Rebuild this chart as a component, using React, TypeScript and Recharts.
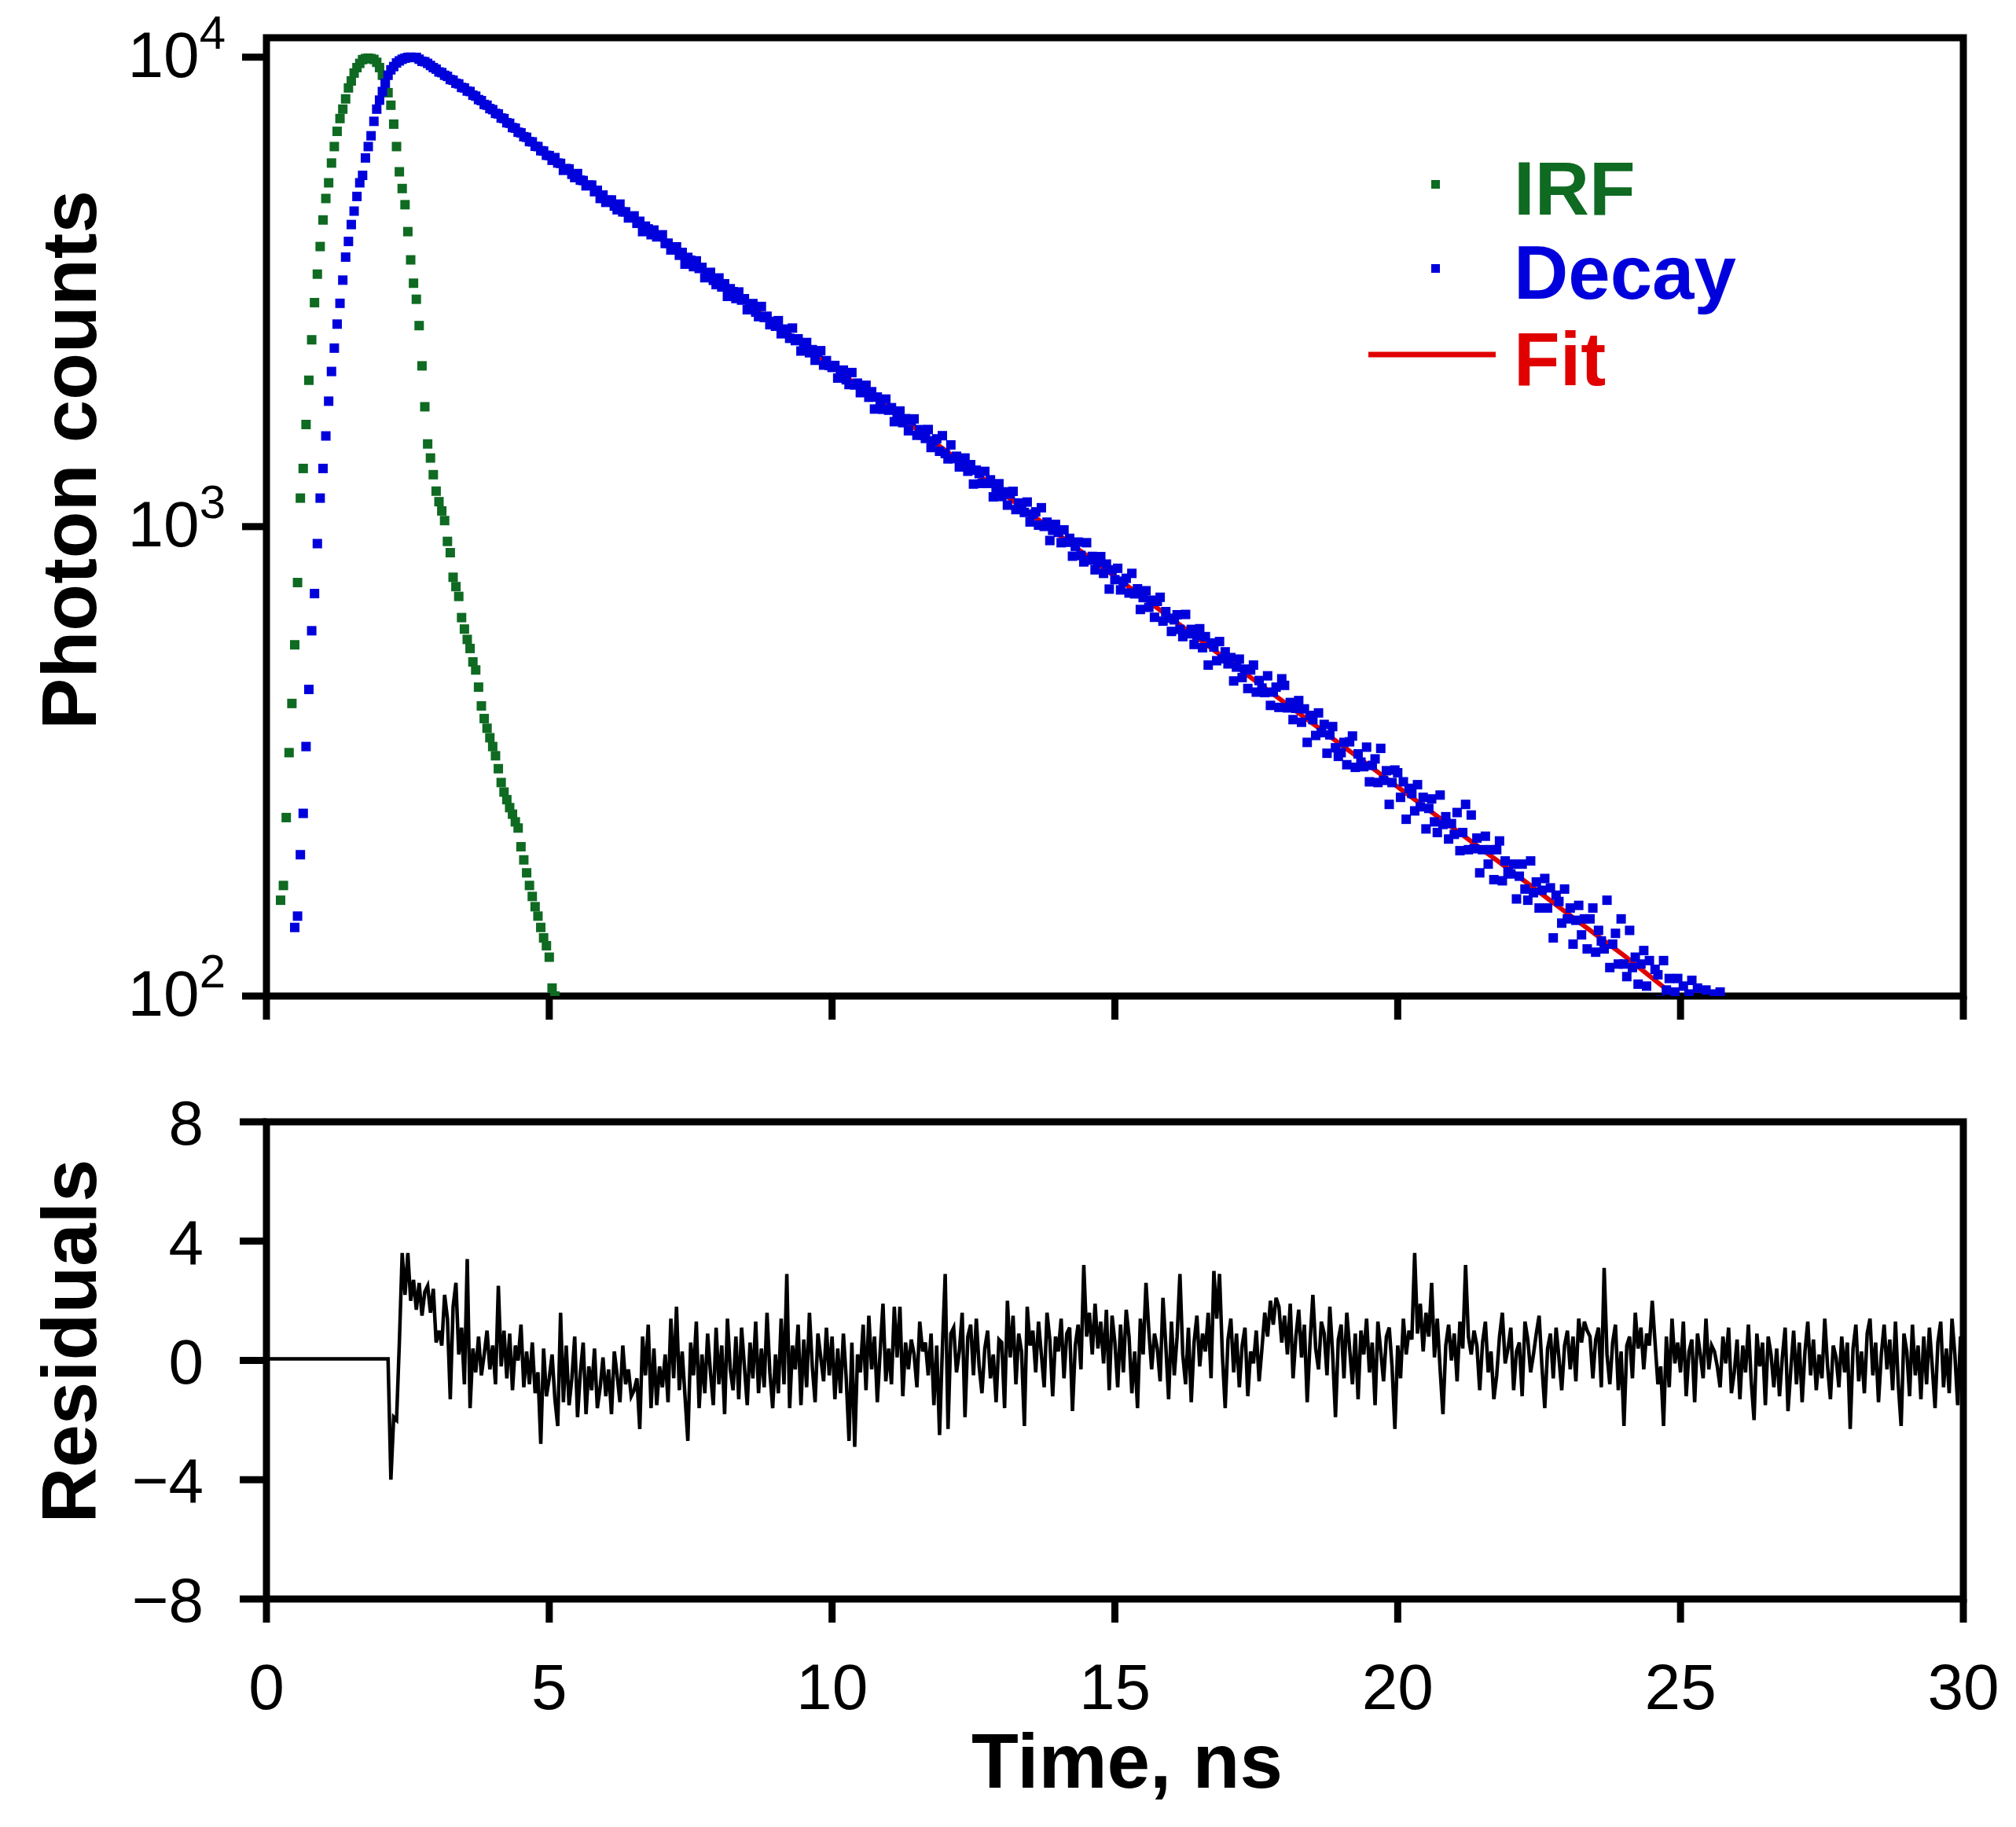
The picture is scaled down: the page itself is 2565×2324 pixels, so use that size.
import React from 'react';
import {
  ComposedChart,
  LineChart,
  Line,
  Scatter,
  XAxis,
  YAxis,
  ReferenceArea,
  Legend,
} from 'recharts';

const FONT = '"Liberation Sans", Arial, Helvetica, sans-serif';
const GREEN = '#0f6a22';
const BLUE = '#0000dc';
const RED = '#e00000';

// ---------- axes ----------
const X_TICKS = [0, 5, 10, 15, 20, 25, 30];
const LOG_TICKS = [100, 1000, 10000];
const RES_TICKS = [-8, -4, 0, 4, 8];

// ---------- data ----------
const CHANNEL_NS = 0.05;

const IRF_START = 0.25;
const IRF_COUNTS = [
  160, 172, 240, 330, 420, 560, 760, 1150, 1330, 1650,
  2050, 2500, 3000, 3450, 3950, 4500, 5000, 5400, 5950, 6450,
  6950, 7400, 7750, 8150, 8600, 8900, 9250, 9500, 9700, 9880,
  9930, 9950, 9930, 9890, 9750, 9500, 9150, 8800, 8400, 7900,
  7200, 6450, 5700, 5250, 4850, 4250, 3700, 3300, 3050, 2680,
  2200, 1800, 1500, 1400, 1290, 1190, 1130, 1080, 1030, 930,
  880, 780, 745, 710, 640, 605, 575, 550, 515, 495,
  455, 415, 390, 372, 355, 340, 325, 305, 285, 272,
  262, 252, 244, 235, 228, 208, 195, 183, 172, 163,
  155, 148, 140, 133, 128, 121, 104, 100,
];

const DECAY_START = 0.5;
const DECAY_COUNTS = [
  140, 148, 200, 245, 340, 450, 600, 720, 920, 1150,
  1330, 1560, 1850, 2140, 2400, 2700, 2990, 3350, 3750, 4050,
  4400, 4700, 5050, 5400, 5600, 6100, 6450, 6800, 7300, 7750,
  8100, 8450, 8800, 9150, 9400, 9550, 9720, 9820, 9900, 9950,
  9990, 10000, 9980, 9990, 9900, 9800, 9780, 9700, 9600, 9500,
  9430, 9300, 9270, 9150, 9100, 8960, 8930, 8800, 8770, 8620,
  8600, 8470, 8450, 8300, 8260, 8120, 8080, 7930, 7900, 7770,
  7730, 7590, 7570, 7420, 7400, 7250, 7230, 7080, 7060, 6920,
  6900, 6770, 6750, 6610, 6600, 6460, 6450, 6320, 6310, 6180,
  6170, 6030, 6110, 5950, 5940, 5740, 5790, 5780, 5630, 5540, 5650, 5470, 5460, 5320, 5340, 5340, 5170, 5205, 5000, 5085,
  4906, 4959, 4964, 4816, 4731, 4864, 4682, 4683, 4544, 4573, 4591, 4426, 4471, 4250, 4366, 4307, 4186, 4283, 4142, 4155,
  4184, 4009, 4016, 3884, 3921, 3944, 3785, 3837, 3623, 3745, 3694, 3579, 3682, 3547, 3566, 3390, 3459, 3480, 3347, 3277,
  3386, 3239, 3291, 3093, 3212, 3166, 3061, 3161, 3037, 3058, 2897, 2965, 2986, 2864, 2801, 2944, 2789, 2806, 2692, 2736,
  2672, 2746, 2575, 2626, 2635, 2518, 2648, 2490, 2512, 2366, 2432, 2467, 2346, 2382, 2261, 2351, 2370, 2208, 2257, 2204,
  2183, 2204, 2072, 2133, 2155, 2055, 2007, 2129, 2003, 2021, 1929, 1970, 2000, 1886, 1938, 1780, 1888, 1858, 1778, 1869,
  1770, 1792, 1673, 1730, 1763, 1665, 1698, 1600, 1678, 1696, 1565, 1609, 1567, 1541, 1610, 1474, 1523, 1538, 1447, 1562,
  1431, 1394, 1493, 1396, 1412, 1340, 1375, 1400, 1312, 1355, 1232, 1319, 1297, 1236, 1311, 1236, 1258, 1157, 1211, 1234,
  1159, 1186, 1111, 1173, 1189, 1087, 1123, 1092, 1072, 1128, 1023, 1063, 1075, 1007, 1097, 1001, 1022, 934, 982, 1011,
  972, 924, 984, 926, 944, 865, 908, 927, 868, 841, 924, 848, 864, 809, 840, 863, 795, 832, 736, 809,
  771, 815, 733, 765, 776, 722, 795, 719, 737, 666, 706, 730, 673, 697, 641, 693, 707, 629, 659, 638,
  598, 633, 649, 604, 583, 650, 591, 604, 561, 586, 606, 552, 583, 507, 565, 554, 518, 569, 523, 541,
  510, 526, 469, 502, 522, 477, 497, 452, 495, 507, 444, 470, 453, 443, 481, 416, 444, 455, 412, 474,
  459, 411, 422, 388, 410, 426, 383, 409, 347, 396, 388, 359, 401, 364, 379, 329, 360, 375, 338, 324,
  330, 347, 311, 348, 358, 307, 328, 315, 308, 339, 286, 310, 320, 285, 337, 288, 302, 256, 285, 303,
  299, 265, 286, 238, 277, 270, 248, 282, 253, 265, 227, 251, 263, 235, 223, 268, 232, 241, 216, 233,
  221, 246, 204, 223, 256, 205, 243, 206, 217, 183, 205, 219, 191, 205, 177, 205, 214, 176, 194, 184,
  182, 191, 161, 180, 191, 169, 160, 194, 166, 175, 154, 168, 178, 154, 170, 133, 164, 159, 143, 169,
  146, 154, 129, 145, 156, 135, 146, 126, 146, 154, 124, 138, 131, 126, 160, 115, 129, 136, 117, 146,
  117, 110, 138, 115, 121, 106, 117, 125, 105, 119, 90, 114, 111, 98, 119, 103, 109, 87, 102, 109,
  96, 105, 92, 101, 108, 94, 104, 97, 90, 103, 94, 92, 101, 88, 102,
];

const FIT_T = [2.25, 2.4, 2.55, 2.7, 2.85, 3.0, 3.5, 4, 4.5, 5, 6, 7, 8, 9, 10, 11, 12, 13, 14, 15, 16, 17, 18, 19, 20, 21, 22, 23, 24, 24.9];
const FIT_COUNTS = [9450, 9830, 9960, 9920, 9720, 9450, 8600, 7700, 6900, 6150, 5004, 4072, 3313, 2696, 2194, 1785, 1453, 1182, 962, 783, 637, 518, 422, 343, 279, 227, 185, 150, 122, 100];

const RES_LEAD_T = [0, 2.15];
const RES_LEAD_V = [0.05, 0.05];
const RES_START = 2.2;
const RESIDUALS = [
  -4.0, -1.9, -2.0, 0.6, 3.6, 2.2, 3.6, 2.0, 2.7, 1.7, 2.6, 1.5, 2.3, 2.5, 1.6, 2.4,
  0.6, 1.0, 0.5, 2.2, 1.4, -1.3, 1.8, 2.6, 0.2, 1.1, -0.8, 3.4, -1.6, 0.4, -0.4, 0.8, -0.5, 0.2, 1.0, -0.3,
  0.5, -0.8, 2.5, -0.2, 1.0, -0.6, 0.9, -1.0, 0.5, 0.0, 1.2, -0.9, 0.3, -0.8, 0.6, -1.1, -0.4, -2.8, 0.4, -1.2,
  -0.6, 0.2, -1.3, -2.2, 1.6, -1.4, 0.5, -1.5, -0.6, 0.8, -1.9, -0.4, 0.6, -1.8, -0.2, -1.0, 0.4, -1.6, -0.9, 0.1,
  -1.2, -0.3, -1.8, 0.3, -0.5, -1.4, 0.5, -0.8, -0.3, -1.2, -1.0, -0.6, -2.3, 0.8, -0.5, 1.2, -1.6, 0.4, -1.5, -0.2,
  -0.9, 0.2, -1.4, 1.4, -0.6, 1.8, -1.0, 0.3, -1.2, -2.7, 0.6, -0.5, 1.3, -1.6, 0.2, -1.1, 0.9, -0.4, -1.5, 1.1,
  -0.8, 0.5, -1.8, 1.4, -0.3, -1.0, 0.8, -1.3, 1.1, -0.2, -1.5, 0.6, -0.6, 1.3, -1.1, 0.4, -0.9, 1.6, -0.4, -1.6,
  0.2, -1.1, 1.4, -0.8, 2.9, -1.6, 0.5, -0.3, 1.2, -1.5, 0.7, -0.9, 1.6, -0.2, -1.4, 0.9, 0.1, -0.7, 1.1, -0.5,
  0.8, -1.3, 0.4, -1.1, 0.9, -0.6, -2.7, 0.6, -2.9, 0.2, -0.4, 1.2, -1.0, 1.5, -0.3, 0.8, -1.4, 0.3, 1.9, -0.7,
  0.4, -0.8, 1.8, 0.1, 1.8, -1.2, 0.6, -0.3, 0.7, 0.2, -0.9, 1.3, 0.3, 0.6, -0.5, 0.9, -1.5, 0.5, -2.5, 0.4,
  2.9, -2.3, 0.9, 1.1, -0.4, 0.3, 1.6, -1.9, 0.8, 1.2, -0.5, 1.4, -0.2, -1.1, 0.4, 1.0, -0.6, 0.2, -1.4, 0.7,
  0.6, -1.6, 2.0, 0.1, 1.5, -0.8, 0.9, 0.3, -2.2, 1.8, 0.5, 1.0, -0.4, 1.3, 0.2, -0.9, 1.6, 0.7, -1.2, 0.8,
  0.3, 1.4, -0.6, 0.9, 1.1, -1.7, 0.5, 1.2, -0.3, 3.2, 0.8, 1.6, 0.2, 1.9, 0.4, 1.3, -0.1, 1.7, -1.0, 1.5,
  0.6, -0.9, 1.2, -0.4, 1.7, 0.8, -1.1, 0.3, -1.6, 1.4, 0.2, 2.6, 1.0, -0.3, 0.9, 0.4, -0.7, 2.1, 0.5, -1.3,
  1.3, -0.5, 0.8, 2.9, 0.2, -0.8, 1.1, -1.4, 0.6, 1.5, -0.2, 0.9, 0.3, 1.6, -0.6, 3.0, 1.4, 2.9, 0.2, -1.6,
  0.7, 1.4, -0.4, 0.9, -0.9, 0.5, 1.1, -1.2, 0.3, -0.1, 1.0, -0.7, 0.4, 1.6, 0.8, 2.0, 1.2, 2.1, 1.8, 0.6,
  1.5, 0.2, 1.9, -0.6, 0.8, 1.7, 0.1, 1.2, -1.4, 0.6, 2.2, 0.4, -0.3, 1.3, 0.9, -0.5, 1.8, 0.2, -1.9, 0.7,
  1.2, -0.6, 1.6, 0.4, -0.8, 0.9, -1.3, 1.0, 0.2, 1.4, -0.4, 0.6, -1.5, 1.3, 0.3, -0.7, 0.8, 1.1, -0.2, -2.3,
  0.5, -0.6, 1.4, 0.2, 1.0, 0.7, 3.6, 0.9, 1.9, 0.3, 1.6, 0.8, 2.6, 0.1, 1.4, -0.3, -1.8, 0.5, 1.2, 0.0,
  0.9, -0.7, 1.3, 0.4, 3.2, 0.8, 0.2, 1.0, 0.5, -1.0, 0.6, 1.3, -0.4, 0.3, -1.3, -0.5, 0.8, 1.6, -0.1, 0.4,
  1.1, -1.0, 0.3, 0.6, -1.2, 1.3, 0.7, -0.4, 0.2, 0.9, 1.5, -0.2, -1.6, 0.4, 0.9, -0.6, 1.1, 0.1, -1.0, 0.5,
  1.0, -0.3, 0.8, -0.7, 1.4, 0.6, 1.3, 1.0, 0.8, -0.6, 0.7, 1.1, -0.9, 3.1, 0.2, -0.8, 0.6, 1.2, -1.0, 0.3,
  -2.2, 0.5, 0.8, -0.6, 1.6, 0.4, 1.1, -0.3, 0.9, 0.5, 2.0, 0.6, -0.8, -0.2, -2.2, 0.8, -0.9, 1.4, -0.1, 0.6,
  -0.4, 1.3, -1.2, 0.3, 0.7, -1.4, 0.9, 0.2, -0.6, 1.4, -0.3, 0.5, 0.3, -0.2, -0.9, 0.8, -0.1, 1.1, -1.1, -0.4,
  0.7, -1.3, 0.5, -0.4, 1.2, -0.7, -2.0, 0.9, -0.2, 0.6, -1.5, 0.8, 0.2, -0.9, 0.4, -1.2, 0.1, 1.1, -1.7, -0.3,
  1.0, -0.8, 0.6, -1.4, 0.3, 1.3, -0.5, 0.7, -1.0, 0.2, -0.6, 1.4, -0.2, -1.3, 0.5, 0.1, -0.9, 0.8, -0.4, 0.6,
  -2.3, 0.4, 1.2, -0.7, 0.3, -1.1, 0.9, 1.4, -0.5, 0.6, -1.4, 0.2, 1.2, -0.3, 0.7, -1.0, 1.3, -0.8, -2.2, 0.9,
  0.3, -1.2, 1.2, -0.5, 0.5, -1.3, 0.8, -0.8, 1.1, -0.2, -1.6, 0.6, 1.3, -0.9, 0.4, -1.1, 1.4, 0.2, -1.5, 0.8,
  -0.6,
];

// ---------- build series tables ----------
const channelTime = (start: number, i: number) => Math.round((start + i * CHANNEL_NS) * 1000) / 1000;
const irfData = IRF_COUNTS.map((v, i) => ({ t: channelTime(IRF_START, i), v }));
const decayData = DECAY_COUNTS.map((v, i) => ({ t: channelTime(DECAY_START, i), v }));
const fitData = FIT_T.map((t, i) => ({ t, v: FIT_COUNTS[i] }));
const residData = [
  ...RES_LEAD_T.map((t, i) => ({ t, v: RES_LEAD_V[i] })),
  ...RESIDUALS.map((v, i) => ({ t: channelTime(RES_START, i), v })),
];

// ---------- layout ----------
const W = 2565;
const TOP_H = 1330;
const BOT_H = 994;
const FRAME = 9;
const MARK = 12;

const axisTextProps = { fontFamily: FONT, fill: '#000' };

const LogTick = (props: any) => {
  const { x, y, payload } = props;
  const exp = Math.round(Math.log10(payload.value));
  return (
    <text x={x} y={y + 25} textAnchor="end" fontSize={82} {...axisTextProps}>
      10
      <tspan dy={-36} fontSize={60}>{exp}</tspan>
    </text>
  );
};

const ResTick = (props: any) => {
  const { x, y, payload } = props;
  const v = payload.value;
  const label = v < 0 ? `\u2212${Math.abs(v)}` : `${v}`;
  return (
    <text x={x} y={y + 29} textAnchor="end" fontSize={80} {...axisTextProps}>
      {label}
    </text>
  );
};

const TimeTick = (props: any) => {
  const { x, y, payload } = props;
  return (
    <text x={x} y={y + 110} textAnchor="middle" fontSize={82} {...axisTextProps}>
      {payload.value}
    </text>
  );
};

const EmptyTick = () => <g />;

const squareShape = (color: string) => (p: any) =>
  p.cx == null || p.cy == null ? <g /> : (
    <rect x={p.cx - MARK / 2} y={p.cy - MARK / 2} width={MARK} height={MARK} fill={color} />
  );

const LegendBox = () => (
  <svg width={620} height={360} style={{ overflow: 'visible' }}>
    <rect x={121} y={49} width={11} height={11} fill={GREEN} />
    <text x={226} y={93} fontSize={96} fontWeight="bold" fontFamily={FONT} fill={GREEN}>IRF</text>
    <rect x={121} y={156} width={11} height={11} fill={BLUE} />
    <text x={226} y={200} fontSize={96} fontWeight="bold" fontFamily={FONT} fill={BLUE}>Decay</text>
    <line x1={41} y1={271} x2={203} y2={271} stroke={RED} strokeWidth={7} />
    <text x={226} y={310} fontSize={96} fontWeight="bold" fontFamily={FONT} fill={RED}>Fit</text>
  </svg>
);

const tickLineStyle = { stroke: '#000', strokeWidth: FRAME };

export default function App() {
  return (
    <div style={{ position: 'absolute', left: 0, top: 0, width: W, height: TOP_H + BOT_H, background: '#fff' }}>
      <div style={{ position: 'absolute', left: 0, top: 0 }}>
        <ComposedChart
          width={W}
          height={TOP_H}
          margin={{ top: 48, right: 67, bottom: 23, left: 139 }}
        >
          <XAxis
            dataKey="t"
            type="number"
            domain={[0, 30]}
            ticks={X_TICKS}
            interval={0}
            allowDataOverflow
            axisLine={false}
            tickLine={tickLineStyle}
            tickSize={30}
            tick={EmptyTick}
            height={40}
          />
          <YAxis
            dataKey="v"
            type="number"
            scale="log"
            domain={[100, 11000]}
            ticks={LOG_TICKS}
            interval={0}
            allowDataOverflow
            axisLine={false}
            tickLine={tickLineStyle}
            tickSize={31}
            tickMargin={21}
            tick={LogTick}
            width={200}
            label={() => (
              <text
                x={122}
                y={585}
                transform="rotate(-90 122 585)"
                textAnchor="middle"
                fontSize={98}
                fontWeight="bold"
                fontFamily={FONT}
                fill="#000"
              >
                Photon counts
              </text>
            )}
          />
          <Scatter
            name="IRF"
            data={irfData}
            dataKey="v"
            fill={GREEN}
            shape={squareShape(GREEN)}
            isAnimationActive={false}
          />
          <Line
            name="Fit"
            data={fitData}
            dataKey="v"
            type="linear"
            stroke={RED}
            strokeWidth={6}
            dot={false}
            activeDot={false}
            isAnimationActive={false}
          />
          <Scatter
            name="Decay"
            data={decayData}
            dataKey="v"
            fill={BLUE}
            shape={squareShape(BLUE)}
            isAnimationActive={false}
          />
          <ReferenceArea
            x1={0}
            x2={30}
            y1={100}
            y2={11000}
            fill="none"
            fillOpacity={0}
            stroke="#000"
            strokeWidth={FRAME}
            ifOverflow="visible"
          />
          <Legend
            layout="horizontal"
            align="center"
            verticalAlign="middle"
            content={LegendBox}
            wrapperStyle={{ position: 'absolute', left: 1700, top: 180, width: 620, height: 360 }}
          />
        </ComposedChart>
      </div>

      <div style={{ position: 'absolute', left: 0, top: TOP_H }}>
        <LineChart
          width={W}
          height={BOT_H}
          data={residData}
          margin={{ top: 97, right: 67, bottom: 90, left: 139 }}
        >
          <XAxis
            dataKey="t"
            type="number"
            domain={[0, 30]}
            ticks={X_TICKS}
            interval={0}
            allowDataOverflow
            axisLine={false}
            tickLine={tickLineStyle}
            tickSize={30}
            tickMargin={0}
            tick={TimeTick}
            height={200}
            label={() => (
              <text
                x={1434}
                y={944}
                textAnchor="middle"
                fontSize={98}
                fontWeight="bold"
                fontFamily={FONT}
                fill="#000"
              >
                Time, ns
              </text>
            )}
          />
          <YAxis
            dataKey="v"
            type="number"
            domain={[-8, 8]}
            ticks={RES_TICKS}
            interval={0}
            allowDataOverflow
            axisLine={false}
            tickLine={tickLineStyle}
            tickSize={34}
            tickMargin={46}
            tick={ResTick}
            width={200}
            label={() => (
              <text
                x={122}
                y={376}
                transform="rotate(-90 122 376)"
                textAnchor="middle"
                fontSize={98}
                fontWeight="bold"
                fontFamily={FONT}
                fill="#000"
              >
                Residuals
              </text>
            )}
          />
          <Line
            dataKey="v"
            type="linear"
            stroke="#000"
            strokeWidth={4.5}
            dot={false}
            activeDot={false}
            isAnimationActive={false}
          />
          <ReferenceArea
            x1={0}
            x2={30}
            y1={-8}
            y2={8}
            fill="none"
            fillOpacity={0}
            stroke="#000"
            strokeWidth={FRAME}
            ifOverflow="visible"
          />
        </LineChart>
      </div>
    </div>
  );
}
